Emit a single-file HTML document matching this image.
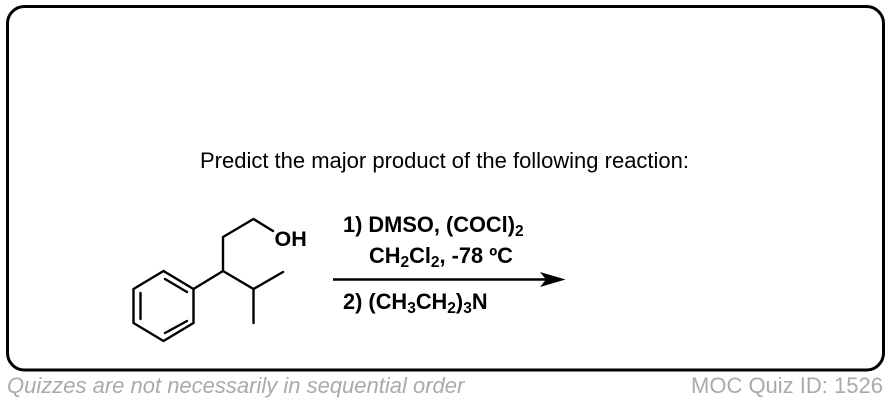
<!DOCTYPE html>
<html><head><meta charset="utf-8">
<style>
html,body{margin:0;padding:0;background:#fff;width:890px;height:404px;overflow:hidden}
svg{display:block}
text{font-family:"Liberation Sans",Arial,sans-serif}
.b{font-weight:bold;font-size:21.8px;fill:#000}
</style></head><body>
<svg width="890" height="404" viewBox="0 0 890 404" xmlns="http://www.w3.org/2000/svg">
<rect x="0" y="0" width="890" height="404" fill="#fff"/>
<rect x="7.5" y="6.5" width="876" height="363.5" rx="17" ry="17" fill="#fff" stroke="#000" stroke-width="3"/>
<text x="200" y="168" font-size="22" fill="#000" textLength="489" lengthAdjust="spacing">Predict the major product of the following reaction:</text>
<g stroke="#000" stroke-width="2.4" fill="none" stroke-linecap="round" stroke-linejoin="miter">
<polygon points="163.5,271 193.5,289 193.5,323 163.5,341 133.5,323 133.5,289"/>
<line x1="165" y1="279" x2="187" y2="292"/>
<line x1="140.5" y1="293" x2="140.5" y2="319"/>
<line x1="165" y1="333" x2="187" y2="321"/>
<polyline points="193.5,289 223,271 253.5,289 283,272"/>
<line x1="253.5" y1="289" x2="253.5" y2="323"/>
<polyline points="223,271 223,237 253.5,219 273,231"/>
</g>
<text x="274.5" y="246" font-size="21.5" font-weight="bold" fill="#000">OH</text>
<line x1="333" y1="279.5" x2="548" y2="279.5" stroke="#000" stroke-width="2.6"/>
<polygon points="565.5,279.5 540,272 546,279.5 540,287" fill="#000"/>
<text class="b" x="343" y="232">1) DMSO, (COCl)<tspan font-size="15.5" dy="4">2</tspan></text>
<text class="b" x="369" y="263">CH<tspan font-size="15.5" dy="4">2</tspan><tspan dy="-4">Cl</tspan><tspan font-size="15.5" dy="4">2</tspan><tspan dy="-4">, -78 ºC</tspan></text>
<text class="b" x="343" y="309">2) (CH<tspan font-size="15.5" dy="4">3</tspan><tspan dy="-4">CH</tspan><tspan font-size="15.5" dy="4">2</tspan><tspan dy="-4">)</tspan><tspan font-size="15.5" dy="4">3</tspan><tspan dy="-4">N</tspan></text>
<text x="7" y="393" font-size="22" font-style="italic" fill="#aaaaaa">Quizzes are not necessarily in sequential order</text>
<text x="691" y="393" font-size="22" fill="#aaaaaa">MOC Quiz ID: 1526</text>
</svg>
</body></html>
